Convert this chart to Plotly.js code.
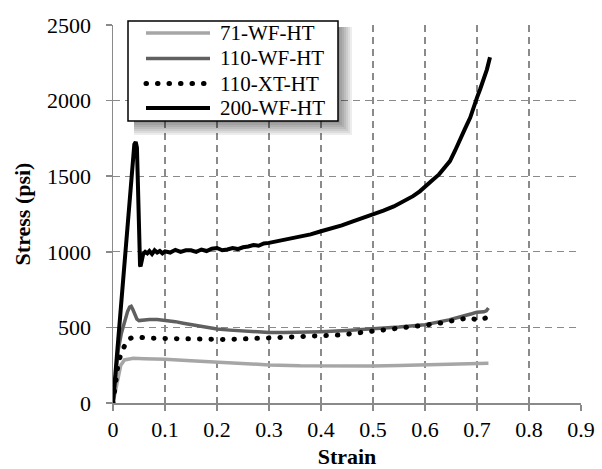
<!DOCTYPE html>
<html>
<head>
<meta charset="utf-8">
<script src="https://cdn.plot.ly/plotly-3.0.1.min.js"></script>
<style>html,body{margin:0;padding:0;background:#fff;}#chart{width:602px;height:469px;}</style>
</head>
<body>
<div id="chart"></div>
<script>
// ---- data ----
const seriesNames = ["71-WF-HT", "110-WF-HT", "110-XT-HT", "200-WF-HT"];

const strain71 = [0, 0.008, 0.015, 0.022, 0.03, 0.039, 0.06, 0.1, 0.15, 0.2, 0.25, 0.3, 0.36, 0.4, 0.45, 0.5, 0.55, 0.6, 0.65, 0.7, 0.722];
const stress71 = [0, 150, 250, 285, 292, 296, 293, 290, 280, 270, 260, 252, 246, 245, 244, 245, 248, 254, 258, 263, 263];

const strain110WF = [0, 0.005, 0.01, 0.016, 0.022, 0.028, 0.032, 0.035, 0.038, 0.042, 0.046, 0.05, 0.06, 0.07, 0.085, 0.1, 0.12, 0.135, 0.15, 0.175, 0.2, 0.225, 0.25, 0.275, 0.3, 0.33, 0.36, 0.4, 0.45, 0.5, 0.55, 0.6, 0.625, 0.646, 0.665, 0.678, 0.69, 0.7, 0.713, 0.718, 0.722];
const stress110WF = [0, 180, 350, 460, 540, 605, 635, 640, 620, 585, 555, 545, 550, 553, 552, 547, 538, 528, 518, 502, 489, 482, 476, 470, 466, 466, 468, 472, 480, 489, 502, 517, 532, 550, 567, 577, 590, 601, 603, 610, 628];

const strain110XT = [0, 0.0104, 0.0186, 0.0275, 0.035, 0.047, 0.07, 0.092, 0.113, 0.145, 0.168, 0.19, 0.21, 0.237, 0.258, 0.278, 0.315, 0.355, 0.375, 0.397, 0.42, 0.436, 0.457, 0.479, 0.5, 0.522, 0.544, 0.565, 0.58, 0.6, 0.622, 0.643, 0.664, 0.685, 0.704, 0.721];
const stress110XT = [0, 274, 351, 418, 430, 436, 429, 427, 424, 418, 416, 418, 420, 422, 425, 426, 429, 433, 436, 444, 443, 450, 458, 467, 473, 480, 486, 495, 504, 513, 524, 538, 553, 564, 546, 568];

const strain200 = [0, 0.006, 0.012, 0.018, 0.023, 0.029, 0.0346, 0.038, 0.041, 0.0437, 0.046, 0.0475, 0.049, 0.0505, 0.052, 0.053, 0.055, 0.058, 0.062, 0.066, 0.07, 0.075, 0.08, 0.085, 0.09, 0.095, 0.1, 0.11, 0.12, 0.13, 0.14, 0.15, 0.16, 0.17, 0.18, 0.19, 0.2, 0.21, 0.22, 0.23, 0.24, 0.25, 0.26, 0.27, 0.28, 0.29, 0.3, 0.32, 0.34, 0.36, 0.38, 0.4, 0.42, 0.44, 0.46, 0.48, 0.5, 0.52, 0.54, 0.56, 0.577, 0.59, 0.6, 0.613, 0.627, 0.638, 0.648, 0.658, 0.667, 0.677, 0.687, 0.694, 0.7, 0.706, 0.712, 0.719, 0.725];
const stress200 = [0, 260, 520, 780, 1000, 1260, 1500, 1640, 1710, 1726, 1690, 1500, 1200, 980, 910, 904, 950, 985, 1000, 990, 1005, 985, 1010, 995, 1005, 990, 1003, 995, 1013, 1000, 1010, 1010, 1000, 1015, 1005, 1020, 1025, 1010, 1015, 1025, 1018, 1030, 1035, 1045, 1040, 1055, 1059, 1072, 1085, 1100, 1115, 1136, 1155, 1175, 1200, 1222, 1247, 1272, 1300, 1335, 1368, 1400, 1434, 1470, 1512, 1555, 1600, 1670, 1744, 1815, 1888, 1950, 2020, 2075, 2131, 2205, 2286];

const xTicks = [0, 0.1, 0.2, 0.3, 0.4, 0.5, 0.6, 0.7, 0.8, 0.9];
const xTickText = ["0", "0.1", "0.2", "0.3", "0.4", "0.5", "0.6", "0.7", "0.8", "0.9"];
const yTicks = [0, 500, 1000, 1500, 2000, 2500];

// ---- styles ----
const DOT = "0.5px,11px";
const colors = ["#a6a6a6", "#606060", "#000000", "#000000"];
const dashes = ["solid", "solid", DOT, "solid"];
const widths = [3.5, 3.5, 5, 4];
const FONT = "Liberation Serif";

const xs = [strain71, strain110WF, strain110XT, strain200];
const ys = [stress71, stress110WF, stress110XT, stress200];

const traces = seriesNames.map((n, i) => ({
  type: "scatter", mode: "lines", name: n, x: xs[i], y: ys[i],
  line: {color: colors[i], width: widths[i], dash: dashes[i]},
  showlegend: false, hoverinfo: "skip"
}));

// plot area geometry (pixels)
const M = {l: 113, r: 21, t: 25, b: 66};
const PW = 602 - M.l - M.r, PH = 469 - M.t - M.b;
const px = v => (v - M.l) / PW;
const py = v => (469 - M.b - v) / PH;

// custom legend box (Excel-like with drop shadow)
const box = {x0: 128, x1: 338, y0: 21, y1: 121};
const shapes = [];
[2, 4, 6, 8, 10, 12, 14].forEach(k => {
  shapes.push({type: "rect", xref: "paper", yref: "paper",
    x0: px(box.x0 + 6), x1: px(box.x1 + k), y0: py(box.y1 + k), y1: py(box.y0 + 6),
    fillcolor: "rgba(0,0,0,0.07)", line: {width: 0}, layer: "above"});
});
shapes.push({type: "rect", xref: "paper", yref: "paper",
  x0: px(box.x0), x1: px(box.x1), y0: py(box.y1), y1: py(box.y0),
  fillcolor: "#ffffff", line: {color: "#000000", width: 1.5}, layer: "above"});
const rowsY = [33, 58.5, 83.5, 108];
const annotations = [];
seriesNames.forEach((n, i) => {
  shapes.push({type: "line", xref: "paper", yref: "paper",
    x0: px(146), x1: px(210), y0: py(rowsY[i]), y1: py(rowsY[i]),
    line: {color: colors[i], width: widths[i], dash: dashes[i]}, layer: "above"});
  annotations.push({xref: "paper", yref: "paper", x: px(218), y: py(rowsY[i]),
    xanchor: "left", yanchor: "middle", showarrow: false, text: n,
    font: {family: FONT, size: 21, color: "#000"}});
});

const gridCol = "#8a8a8a";
const layout = {
  width: 602, height: 469,
  margin: M,
  paper_bgcolor: "#ffffff", plot_bgcolor: "#ffffff",
  font: {family: FONT, size: 22, color: "#000"},
  showlegend: false,
  xaxis: {
    range: [0, 0.9], tickvals: xTicks, ticktext: xTickText,
    showgrid: true, gridcolor: gridCol, gridwidth: 1.3, griddash: "7px,5px",
    zeroline: false, showline: true, linecolor: gridCol, linewidth: 1.5,
    ticks: "outside", ticklen: 6, tickwidth: 1.5, tickcolor: gridCol,
    tickfont: {family: FONT, size: 22, color: "#000"},
    title: {text: "<b>Strain</b>", font: {family: FONT, size: 22, color: "#000"}, standoff: 9}
  },
  yaxis: {
    range: [0, 2500], tickvals: yTicks,
    showgrid: true, gridcolor: gridCol, gridwidth: 1.3, griddash: "7px,5px",
    zeroline: false, showline: true, linecolor: gridCol, linewidth: 1.5,
    ticks: "outside", ticklen: 6, tickwidth: 1.5, tickcolor: gridCol,
    ticklabelstandoff: 10,
    tickfont: {family: FONT, size: 22, color: "#000"},
    title: {text: "<b>Stress (psi)</b>", font: {family: FONT, size: 22, color: "#000"}, standoff: 10}
  },
  shapes: shapes,
  annotations: annotations
};

Plotly.newPlot("chart", traces, layout, {displayModeBar: false, staticPlot: true}).then(gd => {
  // give the dotted series round dots like the original
  gd.querySelectorAll("path").forEach(p => {
    const da = p.style.strokeDasharray || p.getAttribute("stroke-dasharray") || "";
    if (da.indexOf("11") >= 0) p.style.strokeLinecap = "round";
  });
});
</script>
</body>
</html>
